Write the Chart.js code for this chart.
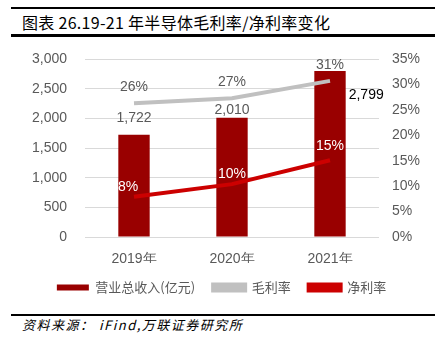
<!DOCTYPE html>
<html>
<head>
<meta charset="utf-8">
<script src="https://cdn.jsdelivr.net/npm/chart.js@4/dist/chart.umd.min.js"></script>
<style>
    html, body { margin: 0; padding: 0; background: #fff; }
    body { width: 435px; height: 344px; position: relative; overflow: hidden; font-family: "Noto Sans CJK SC", sans-serif; }
    .rule { position: absolute; left: 11px; right: 0; background: #000; }
    #title { position: absolute; left: 22px; top: 10px; font-size: 16px; line-height: 24px; letter-spacing: 0.3px; color: #000; white-space: nowrap; }
    #source { position: absolute; left: 22px; top: 316px; font-size: 13px; line-height: 18px; letter-spacing: 1.5px; font-style: italic; color: #000; white-space: nowrap; }
    #wrap { position: absolute; left: 0; top: 40px; width: 435px; height: 264px; }
</style>
</head>
<body>
<div class="rule" style="top:7px;height:2px"></div>
<div id="title">图表 26.19-21 年半导体毛利率/净利率变化</div>
<div class="rule" style="top:34px;height:3px"></div>
<div id="wrap"><canvas id="chart"></canvas></div>
<div class="rule" style="top:314px;height:2px"></div>
<div id="source">资料来源： iFind,万联证券研究所</div>

<script>
// 数据
const years = ['2019年', '2020年', '2021年'];
const revenue = [1722, 2010, 2799];
const grossMargin = [26.3, 27.3, 30.7];
const netMargin = [7.9, 10.4, 15.1];
const revenueLabels = ['1,722', '2,010', '2,799'];
const grossLabels = ['26%', '27%', '31%'];
const netLabels = ['8%', '10%', '15%'];

const tickFont = { family: 'Liberation Sans, Arial, sans-serif', size: 14 };

// 数据标签（手动偏移，模仿原图位置）
const labelPlugin = {
    id: 'labels',
    afterDatasetsDraw(chart) {
        const ctx = chart.ctx;
        ctx.save();
        ctx.font = '14px Liberation Sans, Arial, sans-serif';
        ctx.textBaseline = 'middle';

        const bars = chart.getDatasetMeta(0).data;
        const barDy = [-17, -8, 0];
        bars.forEach((bar, i) => {
            if (i === 2) {
                ctx.fillStyle = '#000';
                ctx.textAlign = 'left';
                ctx.fillText(revenueLabels[i], bar.x + bar.width / 2 + 3, bar.y + 24);
            } else {
                ctx.fillStyle = '#595959';
                ctx.textAlign = 'center';
                ctx.fillText(revenueLabels[i], bar.x, bar.y + barDy[i]);
            }
        });

        ctx.textAlign = 'center';
        ctx.fillStyle = '#595959';
        chart.getDatasetMeta(1).data.forEach((pt, i) => {
            ctx.fillText(grossLabels[i], pt.x, pt.y - 16);
        });

        ctx.fillStyle = '#fff';
        const netDx = [-6, 0, 0];
        const netDy = [-10, -10, -14];
        chart.getDatasetMeta(2).data.forEach((pt, i) => {
            ctx.fillText(netLabels[i], pt.x + netDx[i], pt.y + netDy[i]);
        });
        ctx.restore();
    }
};

// 固定坐标轴尺寸，去掉刻度标签带来的额外上边距
function fixWidth(w) {
    return scale => {
        scale.width = w;
        scale.paddingTop = 0;
        scale.paddingBottom = 0;
    };
}

new Chart(document.getElementById('chart'), {
    data: {
        labels: years,
        datasets: [
            {
                type: 'bar',
                label: '营业总收入(亿元)',
                data: revenue,
                backgroundColor: '#990000',
                borderColor: '#990000',
                borderWidth: 0,
                barPercentage: 0.64,
                categoryPercentage: 0.5,
                yAxisID: 'y',
                order: 2
            },
            {
                type: 'line',
                label: '毛利率',
                data: grossMargin,
                borderColor: '#C0C0C0',
                backgroundColor: '#C0C0C0',
                borderWidth: 4,
                pointRadius: 0,
                tension: 0,
                yAxisID: 'y1',
                order: 1
            },
            {
                type: 'line',
                label: '净利率',
                data: netMargin,
                borderColor: '#CC0000',
                backgroundColor: '#CC0000',
                borderWidth: 4,
                pointRadius: 0,
                tension: 0,
                yAxisID: 'y1',
                order: 0
            }
        ]
    },
    options: {
        responsive: true,
        maintainAspectRatio: false,
        animation: false,
        layout: { padding: { top: 19, left: 8, right: 0, bottom: 0 } },
        plugins: {
            tooltip: { enabled: false },
            legend: {
                position: 'bottom',
                labels: {
                    boxWidth: 32,
                    boxHeight: 6,
                    padding: 18,
                    color: '#595959',
                    font: { family: 'Noto Sans CJK SC, sans-serif', size: 13 },
                    sort: (a, b) => a.datasetIndex - b.datasetIndex
                }
            }
        },
        scales: {
            x: {
                grid: { display: false },
                border: { display: false },
                ticks: { color: '#595959', font: tickFont, padding: 6 },
                afterFit(scale) { scale.height = 26; }
            },
            y: {
                position: 'left',
                min: 0,
                max: 3000,
                ticks: {
                    stepSize: 500,
                    color: '#595959',
                    font: tickFont,
                    padding: 18,
                    callback: v => v.toLocaleString('en-US')
                },
                grid: { color: '#D9D9D9', drawTicks: false },
                border: { display: false },
                afterFit: fixWidth(77)
            },
            y1: {
                position: 'right',
                min: 0,
                max: 35,
                ticks: {
                    stepSize: 5,
                    color: '#595959',
                    font: tickFont,
                    padding: 13,
                    callback: v => v + '%'
                },
                grid: { display: false, drawTicks: false },
                border: { display: false },
                afterFit: fixWidth(56)
            }
        }
    },
    plugins: [labelPlugin]
});
</script>
</body>
</html>
